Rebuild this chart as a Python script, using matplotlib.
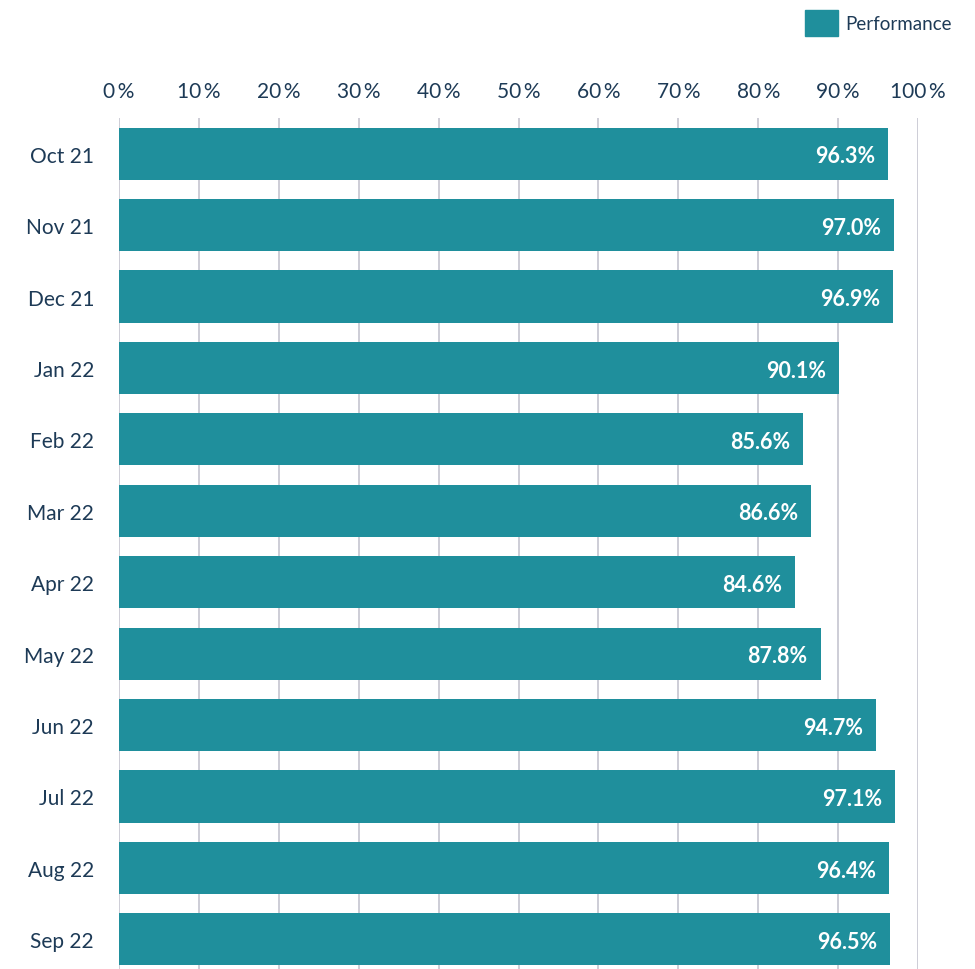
import matplotlib
matplotlib.use("Agg")
from matplotlib import pyplot as plt
from matplotlib.patches import Patch

months = ["Oct 21", "Nov 21", "Dec 21", "Jan 22", "Feb 22", "Mar 22",
          "Apr 22", "May 22", "Jun 22", "Jul 22", "Aug 22", "Sep 22"]
performance = [96.3, 97.0, 96.9, 90.1, 85.6, 86.6, 84.6, 87.8, 94.7, 97.1, 96.4, 96.5]
ticks = list(range(0, 101, 10))

teal = "#1f8f9c"
navy = "#1d3a56"
grid = "#c9c9d3"

plt.rcParams["font.family"] = ["Lato", "DejaVu Sans"]

fig = plt.figure(figsize=(9.75, 9.7), dpi=100)
W, H = 975, 970
ax = fig.add_axes([119 / W, (970 - 976) / H, (918 - 119) / W, (976 - 119) / H])

y = list(range(len(months)))
ax.barh(y, performance, height=0.73, color=teal, zorder=2)
for yi, v in zip(y, performance):
    ax.text(v - 1.6, yi + 0.03, f"{v:.1f}%", ha="right", va="center",
            color="white", fontsize=15.5, fontweight="bold", zorder=3)

ax.set_xlim(0, 100)
ax.set_ylim(len(months) - 0.5, -0.5)
ax.set_xticks(ticks)
ax.set_xticklabels([f"{t}\u2009%" for t in ticks], fontsize=15, color=navy)
ax.xaxis.tick_top()
ax.tick_params(axis="x", length=0, pad=12)
ax.set_yticks(y)
ax.set_yticklabels(months, fontsize=15, color=navy)
ax.tick_params(axis="y", length=0, pad=18)
ax.grid(axis="x", color=grid, linewidth=1.3, zorder=1)
for s in ax.spines.values():
    s.set_visible(False)

fig.legend(handles=[Patch(color=teal, label="Performance")],
           loc="upper right", bbox_to_anchor=(952 / W, 1 - 11 / H),
           borderaxespad=0, borderpad=0,
           frameon=False, fontsize=13.5, handlelength=1.75, handleheight=1.75,
           handletextpad=0.4, labelcolor=navy)

fig.savefig("out.png", dpi=100)
